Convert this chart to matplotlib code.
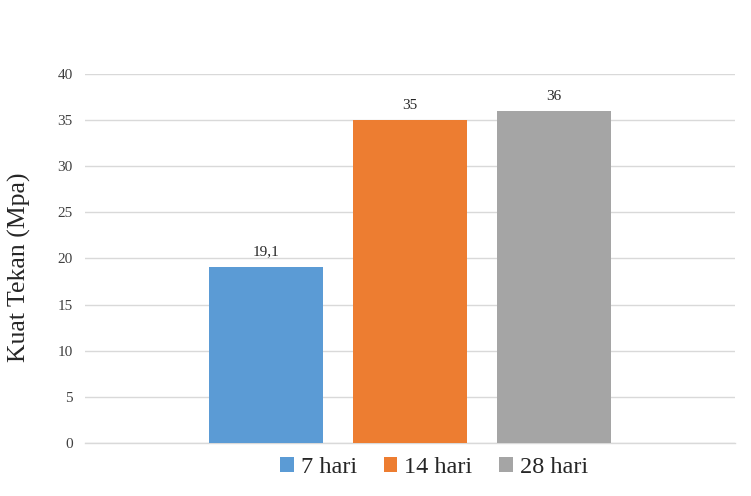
import numpy as np
import matplotlib.pyplot as plt

# Compressive strength by curing age
series = ['7 hari', '14 hari', '28 hari']
strength = [19.1, 35, 36]
labels = ['19,1', '35', '36']
colors = ['#5b9bd5', '#ed7d31', '#a5a5a5']

plt.rcParams['font.family'] = ['Liberation Serif', 'DejaVu Serif']

fig = plt.figure(figsize=(7.51, 4.96), dpi=100)
ax = fig.add_axes([0.1132, 0.1069, 0.8655, 0.7439])

width = 0.174
step = 0.2215
offsets = (np.arange(len(series)) - 1) * step
for off, val, lab, col, name in zip(offsets, strength, labels, colors, series):
    ax.bar(off, val, width=width, color=col, label=name, zorder=3)
    ax.text(off, val + 0.9, lab, ha='center', va='bottom', fontsize=11, color='#262626')

ax.set_xlim(-0.5, 0.5)
ax.set_ylim(0, 40)
ax.set_yticks(np.arange(0, 41, 5))
ax.set_xticks([])
ax.grid(axis='y', color='#d9d9d9', linewidth=1, zorder=0)
ax.axhline(0, color='#d9d9d9', linewidth=1, zorder=2, clip_on=False)
for s in ax.spines.values():
    s.set_visible(False)
ax.tick_params(axis='y', length=0, labelsize=11, labelcolor='#404040', pad=9)
ax.set_ylabel('Kuat Tekan (Mpa)', fontsize=18.5, color='#262626')
ax.yaxis.set_label_coords(-0.083, 0.475)

ax.legend(loc='center', bbox_to_anchor=(0.537, -0.066), ncol=3, frameon=False,
          fontsize=17.5, handlelength=0.55, handleheight=0.55, handletextpad=0.3,
          columnspacing=1.1, labelcolor='#262626')

fig.savefig('out.png', dpi=100)
